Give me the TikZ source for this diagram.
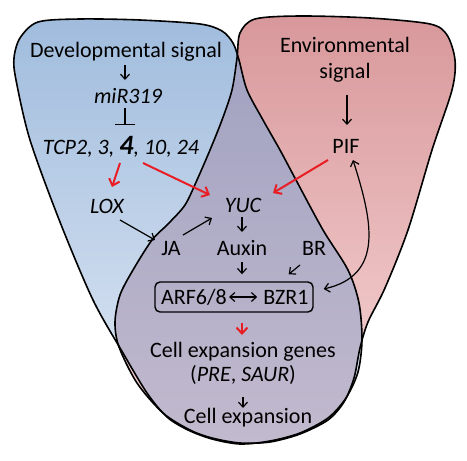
\documentclass[tikz,border=0pt]{standalone}
\usepackage{fontspec}
\setmainfont{Carlito}
\usetikzlibrary{arrows.meta,calc}
\definecolor{bluetop}{RGB}{160,188,221}
\definecolor{bluebot}{RGB}{225,233,245}
\definecolor{redtop}{RGB}{216,152,155}
\definecolor{redbot}{RGB}{248,215,215}
\definecolor{purtop}{RGB}{158,160,192}
\definecolor{purbot}{RGB}{194,186,206}
\definecolor{arrowred}{RGB}{232,30,36}
\begin{document}
\begin{tikzpicture}[x=1pt,y=-1pt,
  lbl/.style={font=\fontsize{22}{26}\selectfont, inner sep=1pt, anchor=base},
  blk/.style={line width=1.2pt, -{Straight Barb[length=5pt,width=9pt]}},
  blkboth/.style={line width=1.2pt, {Straight Barb[length=5pt,width=9pt]}-{Straight Barb[length=5pt,width=9pt]}},
  redarr/.style={draw=arrowred, line width=2pt, -{Straight Barb[length=6pt,width=11pt]}},
  inhib/.style={line width=1.2pt, -{Bar[width=20pt]}},
  outline/.style={line width=1.6pt, line join=round},
  boxst/.style={draw, line width=1.4pt, rounded corners=5pt, minimum width=158pt, minimum height=30pt, inner sep=0pt}]
\useasboundingbox (0,0) rectangle (467,461);
% blue shape fill
\path[top color=bluetop, bottom color=bluebot]
  plot[smooth cycle, tension=0.5] coordinates {(20,38) (38,22) (80,19) (140,20) (200,24) (222,31) (233,43) (239,60) (247,90) (263,120) (280,150) (296,180) (323,230) (348,270) (359,303) (362,340) (358,372) (346,398) (328,418) (300,433) (270,441) (240,444) (212,439) (188,430) (167,417) (147,393) (123,353) (93,300) (60,222) (30,140) (16,80) (14,58)};
% red shape fill
\path[top color=redtop, bottom color=redbot]
  plot[smooth cycle, tension=0.5] coordinates {(240,33) (255,19) (300,16) (370,18) (430,24) (447,35) (455,60) (452,90) (432,150) (408,230) (385,288) (368,322) (360,348) (354,378) (344,402) (328,420) (300,434) (270,442) (240,443) (212,438) (190,430) (163,413) (137,383) (119,347) (115,322) (120,295) (133,270) (152,240) (168,224) (185,205) (197,180) (210,150) (222,120) (232,90) (237,58)};
% intersection
\begin{scope}
\clip plot[smooth cycle, tension=0.5] coordinates {(20,38) (38,22) (80,19) (140,20) (200,24) (222,31) (233,43) (239,60) (247,90) (263,120) (280,150) (296,180) (323,230) (348,270) (359,303) (362,340) (358,372) (346,398) (328,418) (300,433) (270,441) (240,444) (212,439) (188,430) (167,417) (147,393) (123,353) (93,300) (60,222) (30,140) (16,80) (14,58)};
\path[top color=purtop, bottom color=purbot]
  plot[smooth cycle, tension=0.5] coordinates {(240,33) (255,19) (300,16) (370,18) (430,24) (447,35) (455,60) (452,90) (432,150) (408,230) (385,288) (368,322) (360,348) (354,378) (344,402) (328,420) (300,434) (270,442) (240,443) (212,438) (190,430) (163,413) (137,383) (119,347) (115,322) (120,295) (133,270) (152,240) (168,224) (185,205) (197,180) (210,150) (222,120) (232,90) (237,58)};
\end{scope}
% outlines
\draw[outline]
  plot[smooth cycle, tension=0.5] coordinates {(20,38) (38,22) (80,19) (140,20) (200,24) (222,31) (233,43) (239,60) (247,90) (263,120) (280,150) (296,180) (323,230) (348,270) (359,303) (362,340) (358,372) (346,398) (328,418) (300,433) (270,441) (240,444) (212,439) (188,430) (167,417) (147,393) (123,353) (93,300) (60,222) (30,140) (16,80) (14,58)};
\draw[outline]
  plot[smooth cycle, tension=0.5] coordinates {(240,33) (255,19) (300,16) (370,18) (430,24) (447,35) (455,60) (452,90) (432,150) (408,230) (385,288) (368,322) (360,348) (354,378) (344,402) (328,420) (300,434) (270,442) (240,443) (212,438) (190,430) (163,413) (137,383) (119,347) (115,322) (120,295) (133,270) (152,240) (168,224) (185,205) (197,180) (210,150) (222,120) (232,90) (237,58)};

% nodes
\node[lbl] (dev) at (126,57) {Developmental signal};
\node[lbl] (mir) at (128,103) {\itshape miR319};
\node[lbl] (tcp) at (121,154) {\itshape TCP2, 3, {\fontsize{28}{28}\selectfont\bfseries 4}, 10, 24};
\node[lbl] (lox) at (107,213) {\itshape LOX};
\node[lbl, anchor=center, align=center] (env) at (345,60) {Environmental\\signal};
\node[lbl] (pif) at (346,153) {PIF};
\node[lbl] (yuc) at (243,212) {\itshape YUC};
\node[lbl] (ja) at (171,255) {JA};
\node[lbl] (auxin) at (242,255) {Auxin};
\node[lbl] (br) at (314,255) {BR};
\node[boxst] (box) at (234,297) {};
\node[lbl] (arf) at (194,304) {ARF6/8};
\node[lbl] (bzr) at (286,304) {BZR1};
\node[lbl] (cgenes) at (243,357) {Cell expansion genes};
\node[lbl] (pre) at (243,381) {(\textit{PRE}, \textit{SAUR})};
\node[lbl] (cexp) at (248,423) {Cell expansion};

% connectors
\draw[blk] ($(dev.base)+(-1,8)$) -- ($(mir.base)+(-3,-23)$);
\draw[inhib] ($(mir.base)+(-3,5)$) -- ($(tcp.base)+(4,-29)$);
\draw[redarr] ($(tcp.base)+(-1,9)$) -- ($(lox.base)+(5,-26)$);
\draw[redarr] ($(tcp.base)+(22,9)$) -- ($(yuc.base)+(-33,-17)$);
\draw[blk] ($(lox.base)+(13,7)$) -- ($(ja.base)+(-16,-15)$);
\draw[blk] ($(ja.base)+(12,-20)$) -- ($(yuc.base)+(-31,6)$);
\draw[blk] ($(yuc.base)+(-1,5)$) -- ($(auxin.base)+(0,-23)$);
\draw[blk] ($(auxin.base)+(0,7)$) -- ($(box.north)+(8,-7)$);
\draw[blk] ($(br.base)+(-14,10)$) -- ($(box.north east)+(-25,-7)$);
\draw[blkboth, shorten <=1pt, shorten >=5pt] (arf.east |- box.center) -- (bzr.west |- box.center);
\draw[redarr] ($(box.south)+(8,10)$) -- ($(cgenes.base)+(-1,-22)$);
\draw[blk] ($(pre.base)+(0,16)$) -- ($(cexp.base)+(-5,-15)$);
\draw[blk] ($(env.south)+(2,11)$) -- ($(pif.base)+(1,-28)$);
\draw[redarr] ($(pif.base)+(-18,7)$) -- ($(yuc.base)+(30,-19)$);
\draw[blkboth] ($(pif.base)+(7,7)$) .. controls (372,220) and (385,275) .. ($(box.east)+(10,-8)$);
\end{tikzpicture}
\end{document}
